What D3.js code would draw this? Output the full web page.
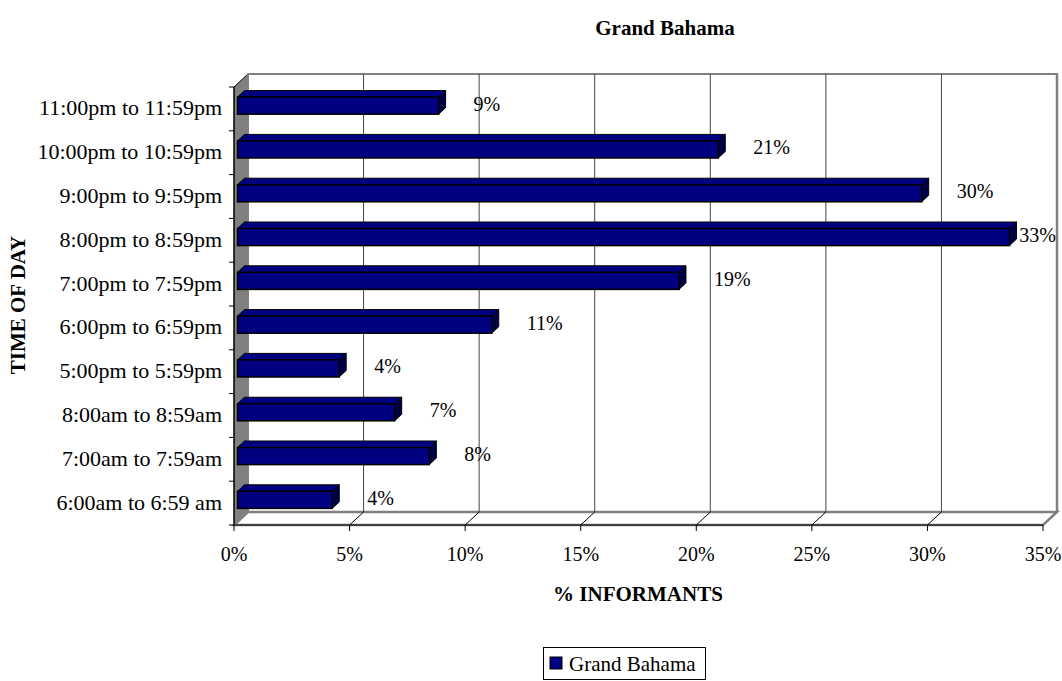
<!DOCTYPE html>
<html>
<head>
<meta charset="utf-8">
<script src="https://cdn.jsdelivr.net/npm/d3@7"></script>
<style>
  body { margin: 0; background: #fff; }
  text { font-family: "Liberation Serif", "Times New Roman", serif; fill: #000; }
</style>
</head>
<body>
<svg id="chart" width="1062" height="681"></svg>
<script>
// ------- data -------
var categories = [
    "11:00pm to 11:59pm", "10:00pm to 10:59pm", "9:00pm to 9:59pm",
    "8:00pm to 8:59pm", "7:00pm to 7:59pm", "6:00pm to 6:59pm",
    "5:00pm to 5:59pm", "8:00am to 8:59am", "7:00am to 7:59am",
    "6:00am to 6:59 am"
];
var values = [8.7, 20.8, 29.6, 33.4, 19.1, 11.0, 4.4, 6.8, 8.3, 4.1];
var labels = ["9%", "21%", "30%", "33%", "19%", "11%", "4%", "7%", "8%", "4%"];
var xTicks = [0, 5, 10, 15, 20, 25, 30, 35];
var seriesName = "Grand Bahama";

// ------- layout -------
var svg = d3.select("#chart");
var pLeft = 234, pRight = 1043, pTop = 87, pBottom = 525;
var dx = 14, dy = -13;          // depth of the 3d box
var navy = "#000080";

var x = d3.scaleLinear().domain([0, 35]).range([pLeft, pRight]);
var y = d3.scaleBand().domain(categories).range([pTop, pBottom]);

// walls
svg.append("path")
    .attr("d", "M" + pLeft + "," + pTop + "L" + (pLeft + dx) + "," + (pTop + dy) +
        "L" + (pLeft + dx) + "," + (pBottom + dy) + "L" + pLeft + "," + pBottom + "Z")
    .attr("fill", "#808080").attr("stroke", "#000").attr("stroke-width", 1);

svg.append("rect")
    .attr("x", pLeft + dx).attr("y", pTop + dy)
    .attr("width", pRight - pLeft).attr("height", pBottom - pTop)
    .attr("fill", "#fff").attr("stroke", "#808080").attr("stroke-width", 2);

// floor
svg.append("path")
    .attr("d", "M" + pLeft + "," + pBottom + "L" + (pLeft + dx) + "," + (pBottom + dy) +
        "L" + (pRight + dx) + "," + (pBottom + dy) + "L" + pRight + "," + pBottom + "Z")
    .attr("fill", "#fff").attr("stroke", "#808080").attr("stroke-width", 2.5);

// gridlines on back wall + floor diagonals
xTicks.slice(1).forEach(function (t) {
    svg.append("line")
        .attr("x1", x(t) + dx).attr("x2", x(t) + dx)
        .attr("y1", pTop + dy).attr("y2", pBottom + dy)
        .attr("stroke", t == 35 ? "#808080" : "#444").attr("stroke-width", t == 35 ? 2.5 : 1);
    if (t < 35) {
        svg.append("line")
            .attr("x1", x(t)).attr("y1", pBottom)
            .attr("x2", x(t) + dx).attr("y2", pBottom + dy)
            .attr("stroke", "#000").attr("stroke-width", 1);
    }
});

// front axes
svg.append("line").attr("x1", pLeft).attr("x2", pLeft).attr("y1", pTop).attr("y2", pBottom)
    .attr("stroke", "#000");
svg.append("line").attr("x1", pLeft).attr("x2", pRight).attr("y1", pBottom).attr("y2", pBottom)
    .attr("stroke", "#000");

// x ticks
var xAxis = svg.append("g");
xTicks.forEach(function (t) {
    xAxis.append("line").attr("x1", x(t)).attr("x2", x(t))
        .attr("y1", pBottom).attr("y2", pBottom + 6).attr("stroke", "#000");
    xAxis.append("text").attr("x", x(t)).attr("y", pBottom + 29)
        .attr("text-anchor", "middle").attr("dominant-baseline", "central")
        .style("font-size", "20px").text(t + "%");
});

// y ticks + labels
var yAxis = svg.append("g");
categories.forEach(function (c) {
    yAxis.append("line").attr("x1", pLeft - 5).attr("x2", pLeft)
        .attr("y1", y(c)).attr("y2", y(c)).attr("stroke", "#000");
    yAxis.append("text").attr("x", 222).attr("y", y(c) + y.bandwidth() / 2 - 1)
        .attr("text-anchor", "end").attr("dominant-baseline", "central")
        .style("font-size", "22px").text(c);
});
yAxis.append("line").attr("x1", pLeft - 5).attr("x2", pLeft)
    .attr("y1", pBottom).attr("y2", pBottom).attr("stroke", "#000");

// bars (occupy middle half of the depth)
var f0 = 0.25, f1 = 0.75;
var bh = y.bandwidth() * 0.39;
var bars = svg.append("g").selectAll("g")
    .data(categories.map(function (c, i) { return { cat: c, v: values[i], label: labels[i] }; }))
    .enter().append("g");

bars.each(function (d) {
    var g = d3.select(this);
    var ox = dx * f0, oy = dy * f0;
    var bx = dx * (f1 - f0), by = dy * (f1 - f0);
    var x0 = x(0) + ox, x1 = x(d.v) + ox;
    var yt = y(d.cat) + y.bandwidth() / 2 - bh / 2 + oy;
    // top face
    g.append("path")
        .attr("d", "M" + x0 + "," + yt + "L" + (x0 + bx) + "," + (yt + by) +
            "L" + (x1 + bx) + "," + (yt + by) + "L" + x1 + "," + yt + "Z")
        .attr("fill", navy).attr("stroke", "#000").attr("stroke-width", 1);
    // side face
    g.append("path")
        .attr("d", "M" + x1 + "," + yt + "L" + (x1 + bx) + "," + (yt + by) +
            "L" + (x1 + bx) + "," + (yt + by + bh) + "L" + x1 + "," + (yt + bh) + "Z")
        .attr("fill", "#000048").attr("stroke", "#000").attr("stroke-width", 1);
    // front face
    g.append("rect")
        .attr("x", x0).attr("y", yt).attr("width", x1 - x0).attr("height", bh)
        .attr("fill", navy).attr("stroke", "#000").attr("stroke-width", 1.5);
    // value label, kept inside the picture
    var lbl = g.append("text")
        .attr("y", yt + bh / 2 - 2)
        .attr("dominant-baseline", "central").style("font-size", "20px")
        .text(d.label);
    var w = lbl.node().getComputedTextLength();
    lbl.attr("x", Math.min(x1 + bx + 28, 1056 - w));
});

// titles
svg.append("text").attr("x", 665).attr("y", 35).attr("text-anchor", "middle")
    .style("font-size", "21px").style("font-weight", "bold").text(seriesName);

svg.append("text").attr("x", 638).attr("y", 601).attr("text-anchor", "middle")
    .style("font-size", "21px").style("font-weight", "bold").text("% INFORMANTS");

svg.append("text").attr("transform", "translate(25,305)rotate(-90)")
    .attr("text-anchor", "middle").style("font-size", "21px").style("font-weight", "bold")
    .text("TIME OF DAY");

// legend
var lg = svg.append("g").attr("transform", "translate(543,647)");
lg.append("rect").attr("x", 0.5).attr("y", 0.5).attr("width", 162).attr("height", 32)
    .attr("fill", "#fff").attr("stroke", "#000");
lg.append("rect").attr("x", 7).attr("y", 10).attr("width", 12).attr("height", 12)
    .attr("fill", navy).attr("stroke", "#000");
lg.append("text").attr("x", 26).attr("y", 17).attr("dominant-baseline", "central")
    .style("font-size", "21px").text(seriesName);
</script>
</body>
</html>
